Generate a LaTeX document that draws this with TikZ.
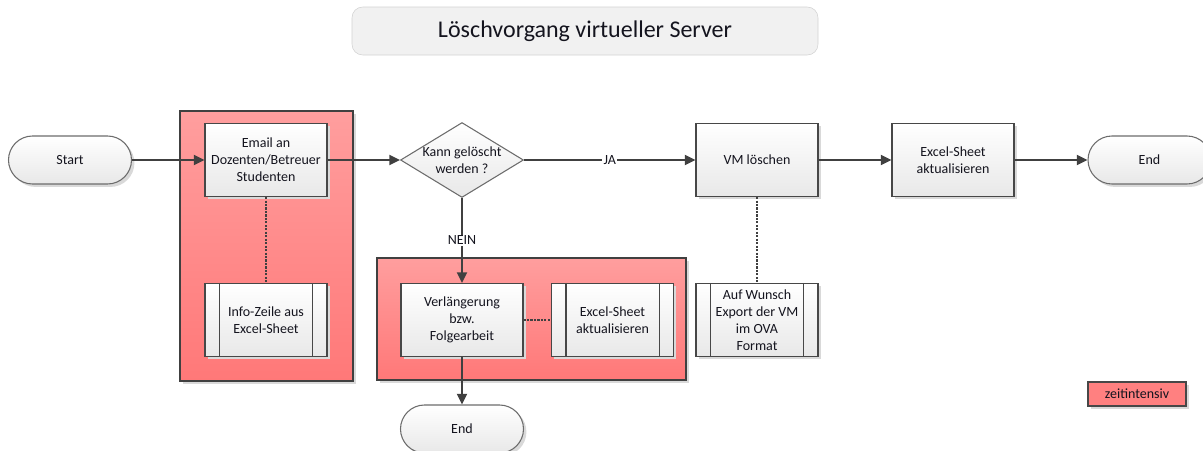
\documentclass[tikz,border=0pt]{standalone}
\usepackage{fontspec}
\setmainfont{Carlito}
\usetikzlibrary{shapes.geometric,shadows,arrows.meta}
\definecolor{linec}{HTML}{404040}
\definecolor{boxline}{HTML}{474747}
\definecolor{boxbot}{HTML}{E8E8E8}
\definecolor{textc}{HTML}{14141E}
\definecolor{redtop}{HTML}{FF9E9E}
\definecolor{redbot}{HTML}{FF7878}
\definecolor{legendred}{HTML}{FF8080}
\definecolor{titlefill}{HTML}{F1F1F1}
\definecolor{titleline}{HTML}{D2D2D2}
\begin{document}
\begin{tikzpicture}[x=0.75pt,y=-0.75pt,
  font=\fontsize{10.5}{12.75}\selectfont,
  shade/.style={drop shadow={shadow xshift=2.2pt,shadow yshift=-2.2pt,fill=black!15,opacity=1}},
  procbox/.style={draw=boxline,line width=0.8pt,top color=white,bottom color=boxbot,
    minimum width=91.5pt,minimum height=54.75pt,align=center,inner sep=2pt,text=textc,shade},
  termbox/.style={draw=boxline!80,line width=0.8pt,top color=white,bottom color=boxbot,
    rounded corners=18pt,minimum width=92.25pt,minimum height=36pt,text=textc,shade},
  decbox/.style={diamond,draw=boxline!80,line width=0.8pt,top color=white,bottom color=boxbot,
    aspect=1.64,minimum width=90.75pt,minimum height=55.5pt,inner sep=0pt,align=center,text=textc},
  zonebox/.style={draw=linec,line width=0.8pt,top color=redtop,bottom color=redbot,shade},
  flow/.style={draw=linec,line width=1.5pt,-{Triangle[length=8pt,width=7.5pt]}},
  dotlink/.style={draw=linec,line width=1.2pt,dash pattern=on 1.6pt off 1pt},
  lbl/.style={fill=white,inner sep=1pt,text=textc}
]
\useasboundingbox (0,0) rectangle (1203,450);

% title
\node[draw=titleline,fill=titlefill,rounded corners=8pt,minimum width=349.5pt,minimum height=36pt,
  font=\fontsize{18}{22}\selectfont,text=textc] (title) at (585,31) {Löschvorgang virtueller Server};

% shaded zones marking time-consuming steps
\node[zonebox,minimum width=129.75pt,minimum height=202.5pt] (zoneA) at (266.5,246) {};
\node[zonebox,minimum width=231.75pt,minimum height=91.5pt] (zoneB) at (531.5,319) {};

% main flow
\node[termbox] (start) at (70,160) {Start};
\node[procbox] (email) at (266,160) {Email an\\Dozenten/Betreuer\\Studenten};
\node[decbox] (dec) at (462,160) {Kann gelöscht\\werden ?};
\node[procbox] (vm) at (757,160) {VM löschen};
\node[procbox] (xls) at (953,160) {Excel-Sheet\\aktualisieren};
\node[termbox] (endR) at (1149.5,160) {End};

% side branches
\node[procbox] (info) at (266,320) {Info-Zeile aus\\Excel-Sheet};
\node[procbox] (verl) at (462,320) {Verlängerung\\bzw.\\Folgearbeit};
\node[procbox] (xls2) at (612.5,320) {Excel-Sheet\\aktualisieren};
\node[procbox] (wunsch) at (757,320) {Auf Wunsch\\Export der VM\\im OVA\\Format};
\node[termbox] (endB) at (462,429) {End};

% predefined-process side bars
\foreach \n in {info,xls2,wunsch}{
  \draw[boxline,line width=0.8pt] ([xshift=11.25pt]\n.north west) -- ([xshift=11.25pt]\n.south west);
  \draw[boxline,line width=0.8pt] ([xshift=-11.25pt]\n.north east) -- ([xshift=-11.25pt]\n.south east);
}

% legend
\node[draw=boxline,line width=0.8pt,fill=legendred,minimum width=73.5pt,minimum height=18pt,
  text=textc,shade] (legend) at (1137,394) {zeitintensiv};

% connectors
\draw[flow] (start) -- (email);
\draw[flow] (email) -- (dec);
\draw[flow] (dec) -- node[lbl]{JA} (vm);
\draw[flow] (vm) -- (xls);
\draw[flow] (xls) -- (endR);
\draw[flow] (dec) -- node[lbl]{NEIN} (verl);
\draw[flow] (verl) -- (endB);
\draw[dotlink] (email) -- (info);
\draw[dotlink] (verl) -- (xls2);
\draw[dotlink] (vm) -- (wunsch);
\end{tikzpicture}
\end{document}
